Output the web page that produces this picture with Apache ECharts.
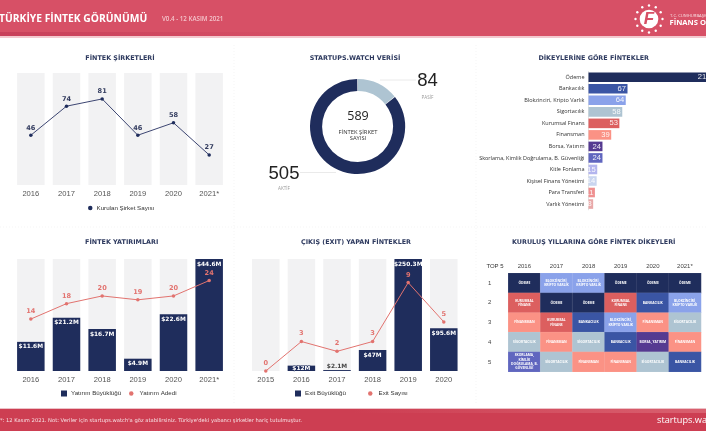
<!DOCTYPE html>
<html lang="tr">
<head>
<meta charset="utf-8">
<title>Türkiye Fintek Görünümü</title>
<script src="https://cdn.jsdelivr.net/npm/echarts@6/dist/echarts.min.js"></script>
<style>
    html, body { margin: 0; padding: 0; background: #fff; overflow: hidden; }
    #main { width: 706px; height: 431px; }
</style>
</head>
<body>
<div id="main"></div>
<script>
// fintek sirketleri
var foundedYears = ['2016', '2017', '2018', '2019', '2020', '2021*'];
var foundedCounts = [46, 74, 81, 46, 58, 27];

// startups.watch verisi
var passiveCount = 84;
var activeCount = 505;
var totalCount = 589;

// dikeylere gore
var verticalNames = ['Ödeme', 'Bankacılık', 'Blokzinciri, Kripto Varlık', 'Sigortacılık', 'Kurumsal Finans', 'Finansman', 'Borsa, Yatırım', 'Skorlama, Kimlik Doğrulama, B. Güvenliği', 'Kitle Fonlama', 'Kişisel Finans Yönetimi', 'Para Transferi', 'Varlık Yönetimi'];
var verticalCounts = [212, 67, 64, 58, 53, 39, 24, 24, 15, 14, 11, 8];

// yatirimlar
var investYears = ['2016', '2017', '2018', '2019', '2020', '2021*'];
var investAmounts = [11.6, 21.2, 16.7, 4.9, 22.6, 44.6];
var investDeals = [14, 18, 20, 19, 20, 24];

// exit
var exitYears = ['2015', '2016', '2017', '2018', '2019', '2020'];
var exitAmounts = [0, 12, 2.1, 47, 250.3, 95.6];
var exitDeals = [0, 3, 2, 3, 9, 5];

// top 5 tablosu
var topYears = ['2016', '2017', '2018', '2019', '2020', '2021*'];
var topRanks = ['1', '2', '3', '4', '5'];
var top2016 = ['ODEME', 'KURUMSAL', 'FINANSMAN', 'SIGORTA', 'SKORLAMA'];
var top2017 = ['BLOK', 'ODEME', 'KURUMSAL', 'FINANSMAN', 'SIGORTA'];
var top2018 = ['BLOK', 'ODEME', 'BANKA', 'SIGORTA', 'FINANSMAN'];
var top2019 = ['ODEME', 'KURUMSAL', 'BLOK', 'BANKA', 'FINANSMAN'];
var top2020 = ['ODEME', 'BANKA', 'FINANSMAN', 'BORSA', 'SIGORTA'];
var top2021 = ['ODEME', 'BLOK', 'SIGORTA', 'FINANSMAN', 'BANKA'];
var topColumns = [top2016, top2017, top2018, top2019, top2020, top2021];

var topLabels = {
    ODEME: 'ÖDEME',
    BANKA: 'BANKACILIK',
    BLOK: 'BLOKZİNCİRİ,\nKRİPTO VARLIK',
    SIGORTA: 'SİGORTACILIK',
    KURUMSAL: 'KURUMSAL\nFİNANS',
    FINANSMAN: 'FİNANSMAN',
    BORSA: 'BORSA, YATIRIM',
    SKORLAMA: 'SKORLAMA,\nKİMLİK\nDOĞRULAMA, B.\nGÜVENLİĞİ'
};
var topColors = {
    ODEME: '#1f2d5c',
    BANKA: '#3a55a4',
    BLOK: '#8aa2ea',
    SIGORTA: '#aec4d2',
    KURUMSAL: '#dc5f5f',
    FINANSMAN: '#fb9285',
    BORSA: '#553a91',
    SKORLAMA: '#6066bf'
};
var verticalColors = ['#1f2d5c', '#3a55a4', '#8aa2ea', '#aec4d2', '#dc5f5f', '#fb9285', '#553a91', '#6066bf', '#b3b5ee', '#c9d5ef', '#ef9090', '#e8a8a8'];

var NAVY = '#1f2d5c';
var RED = '#e2736f';
var BAND = '#f2f2f3';
var SANS = '"Open Sans", sans-serif';
var HELV = '"Liberation Sans", sans-serif';
var MONO = '"DejaVu Sans", sans-serif';

var chart = echarts.init(document.getElementById('main'), null, { renderer: 'canvas' });

function yearAxis(grid, years) {
    return {
        type: 'category', gridIndex: grid, data: years,
        axisLine: { show: false }, axisTick: { show: false }, splitLine: { show: false },
        axisLabel: { color: '#555', fontSize: 7.6, fontFamily: HELV, margin: 5 }
    };
}
function hiddenValue(grid, min, max) {
    return { type: 'value', gridIndex: grid, min: min, max: max, show: false, splitLine: { show: false } };
}
function sectionTitle(text, x, y) {
    return {
        text: text, left: x, top: y, textAlign: 'center', padding: 0,
        textStyle: { color: '#2e3a5f', fontSize: 6.4, fontWeight: 'bold', fontFamily: MONO }
    };
}
function legendStyle() {
    return { color: '#333', fontSize: 6.2, fontFamily: HELV, padding: [0, 0, 0, -1] };
}

var heatData = [];
topColumns.forEach(function (col, x) {
    col.forEach(function (key, y) {
        heatData.push({
            value: [x, y, 1],
            itemStyle: { color: topColors[key] },
            label: { formatter: topLabels[key] }
        });
    });
});

var verticalData = verticalCounts.map(function (v, i) {
    return { value: v, itemStyle: { color: verticalColors[i] } };
});

var exitData = exitAmounts.map(function (v, i) {
    var item = { value: v };
    if (i === 0) item.label = { show: false };
    if (i === 1) item.label = { position: 'insideBottom', distance: 0, textBorderColor: '#1f2d5c', textBorderWidth: 0.8 };
    if (i === 2) item.label = { position: 'top', distance: 1, color: '#444' };
    return item;
});

// logo noktalari
var logoDots = [];
for (var d = 0; d < 12; d++) {
    var ang = d / 12 * Math.PI * 2;
    logoDots.push({
        type: 'circle',
        shape: { cx: 649 + Math.cos(ang) * 13.5, cy: 19 + Math.sin(ang) * 13.5, r: 1.2 },
        style: { fill: '#fff' }
    });
}

var decorations = [
    { type: 'rect', z: -2, shape: { x: 0, y: 0, width: 706, height: 36 }, style: { fill: '#d75066' } },
    {
        type: 'rect', z: -1, shape: { x: 0, y: 32, width: 706, height: 4 },
        style: { fill: new echarts.graphic.LinearGradient(0, 0, 1, 0, [{ offset: 0, color: '#c8405a' }, { offset: 0.45, color: '#d75066' }]) }
    },
    { type: 'rect', z: -1, shape: { x: 0, y: 36, width: 706, height: 2 }, style: { fill: '#f3c9cf' } },
    { type: 'rect', z: -2, shape: { x: 0, y: 409, width: 706, height: 22 }, style: { fill: '#cd3e52' } },
    {
        type: 'rect', z: -1, shape: { x: 0, y: 409, width: 706, height: 4 },
        style: { fill: new echarts.graphic.LinearGradient(0, 0, 1, 0, [{ offset: 0.5, color: '#cd3e52' }, { offset: 1, color: '#d9606f' }]) }
    },
    { type: 'rect', z: -1, shape: { x: 0, y: 408, width: 706, height: 1 }, style: { fill: '#ecc2c8' } },

    { type: 'line', shape: { x1: 234, y1: 45, x2: 234, y2: 405 }, style: { stroke: '#f0f0f0', lineWidth: 0.7, lineDash: [1, 2] } },
    { type: 'line', shape: { x1: 476, y1: 45, x2: 476, y2: 405 }, style: { stroke: '#f0f0f0', lineWidth: 0.7, lineDash: [1, 2] } },
    { type: 'line', shape: { x1: 0, y1: 227, x2: 706, y2: 227 }, style: { stroke: '#f0f0f0', lineWidth: 0.7, lineDash: [1, 2] } },

    { type: 'text', x: -1, y: 19, style: { text: 'TÜRKİYE FİNTEK GÖRÜNÜMÜ', fill: '#fff', font: 'bold 10.3px ' + SANS, verticalAlign: 'middle' } },
    { type: 'text', x: 162, y: 19, style: { text: 'V0.4 - 12 KASIM 2021', fill: '#f4c4cb', font: '600 6.2px ' + SANS, verticalAlign: 'middle' } },
    { type: 'circle', shape: { cx: 649, cy: 19, r: 9.3 }, style: { fill: '#fff' } },
    { type: 'text', x: 649, y: 19, style: { text: 'F', fill: '#d75066', font: 'italic bold 17px ' + HELV, align: 'center', verticalAlign: 'middle' } },
    { type: 'text', x: 670, y: 15.5, style: { text: 'T.C. CUMHURBAŞKANLIĞI', fill: '#f8dfe3', font: '4.2px ' + SANS, verticalAlign: 'middle' } },
    { type: 'text', x: 669.5, y: 22.8, style: { text: 'FİNANS OFİSİ', fill: '#fff', font: 'bold 7.6px ' + SANS, verticalAlign: 'middle' } },

    { type: 'text', x: 0, y: 420.5, style: { text: '*: 12 Kasım 2021. Not: Veriler için startups.watch\'a göz atabilirsiniz. Türkiye\'deki yabancı şirketler hariç tutulmuştur.', fill: '#f8e3e6', font: '5.2px ' + MONO, verticalAlign: 'middle' } },
    { type: 'text', x: 657, y: 420.5, style: { text: 'startups.watch', fill: '#fff', font: '9.2px ' + SANS, verticalAlign: 'middle' } },

    // donut ortasi ve etiketler
    { type: 'text', x: 358, y: 116, style: { text: String(totalCount), fill: '#222', font: '12.5px ' + SANS, align: 'center', verticalAlign: 'middle' } },
    { type: 'text', x: 358, y: 132, style: { text: 'FİNTEK ŞİRKET', fill: '#333', font: '5.8px ' + SANS, align: 'center', verticalAlign: 'middle' } },
    { type: 'text', x: 358, y: 138, style: { text: 'SAYISI', fill: '#333', font: '5.8px ' + SANS, align: 'center', verticalAlign: 'middle' } },
    { type: 'line', shape: { x1: 380, y1: 80, x2: 416, y2: 80 }, style: { stroke: '#e4e4e4', lineWidth: 0.8 } },
    { type: 'line', shape: { x1: 300, y1: 172.5, x2: 336, y2: 172.5 }, style: { stroke: '#e4e4e4', lineWidth: 0.8 } },
    { type: 'text', x: 427.5, y: 81, style: { text: String(passiveCount), fill: '#222', font: '18.5px ' + HELV, align: 'center', verticalAlign: 'middle' } },
    { type: 'text', x: 427.5, y: 98, style: { text: 'PASİF', fill: '#999', font: '4.6px ' + SANS, align: 'center', verticalAlign: 'middle' } },
    { type: 'text', x: 284, y: 173.5, style: { text: String(activeCount), fill: '#222', font: '18.5px ' + HELV, align: 'center', verticalAlign: 'middle' } },
    { type: 'text', x: 284, y: 189, style: { text: 'AKTİF', fill: '#999', font: '4.6px ' + SANS, align: 'center', verticalAlign: 'middle' } },

    { type: 'text', x: 495, y: 266.7, style: { text: 'TOP 5', fill: '#333', font: '6px ' + HELV, align: 'center', verticalAlign: 'middle' } }
].concat(logoDots);

var option = {
    animation: false,
    backgroundColor: '#fff',
    title: [
        sectionTitle('FİNTEK ŞİRKETLERİ', 120, 55),
        sectionTitle('STARTUPS.WATCH VERİSİ', 355, 55),
        sectionTitle('DİKEYLERİNE GÖRE FİNTEKLER', 593.7, 55),
        sectionTitle('FİNTEK YATIRIMLARI', 121.7, 239.3),
        sectionTitle('ÇIKIŞ (EXIT) YAPAN FİNTEKLER', 356, 239.3),
        sectionTitle('KURULUŞ YILLARINA GÖRE FİNTEK DİKEYLERİ', 593.7, 239.3)
    ],
    legend: [
        { data: [{ name: 'Kurulan Şirket Sayısı', icon: 'circle' }], left: 88, top: 205, itemWidth: 4.5, itemHeight: 4.5, itemGap: 0, padding: 0, textStyle: legendStyle() },
        { data: [{ name: 'Yatırım Büyüklüğü', icon: 'rect' }], left: 61, top: 390.5, itemWidth: 6, itemHeight: 6, padding: 0, textStyle: legendStyle() },
        { data: [{ name: 'Yatırım Adedi', icon: 'circle' }], left: 129, top: 390.5, itemWidth: 4.5, itemHeight: 4.5, padding: 0, textStyle: { color: '#333', fontSize: 6.2, fontFamily: HELV, padding: [0, 0, 0, 1] } },
        { data: [{ name: 'Exit Büyüklüğü', icon: 'rect' }], left: 295, top: 390.5, itemWidth: 6, itemHeight: 6, padding: 0, textStyle: legendStyle() },
        { data: [{ name: 'Exit Sayısı', icon: 'circle' }], left: 368, top: 390.5, itemWidth: 4.5, itemHeight: 4.5, padding: 0, textStyle: { color: '#333', fontSize: 6.2, fontFamily: HELV, padding: [0, 0, 0, 1] } }
    ],
    grid: [
        { left: 13, top: 73, width: 214, height: 112 },
        { left: 13, top: 259, width: 214, height: 112 },
        { left: 248, top: 259, width: 213.6, height: 112 },
        // sag kenardan tasiyor, referansta da kesik
        { left: 588.5, top: 71.5, width: 140, height: 138.3, outerBoundsMode: 'none' },
        { left: 508.3, top: 273.3, width: 192.7, height: 98.4, outerBoundsMode: 'none' }
    ],
    xAxis: [
        yearAxis(0, foundedYears),
        yearAxis(1, investYears),
        yearAxis(2, exitYears),
        { type: 'value', gridIndex: 3, min: 0, max: 240.5, show: false, splitLine: { show: false } },
        {
            type: 'category', gridIndex: 4, data: topYears, position: 'top',
            axisLine: { show: false }, axisTick: { show: false }, splitArea: { show: false },
            axisLabel: { color: '#444', fontSize: 6, fontFamily: HELV, margin: 3.5 }
        }
    ],
    yAxis: [
        hiddenValue(0, -2, 106),
        hiddenValue(1, 0, 44.6),
        hiddenValue(1, 0.5, 29.6),
        hiddenValue(2, 0, 250.3),
        hiddenValue(2, 0, 11.4),
        {
            type: 'category', gridIndex: 3, data: verticalNames, inverse: true,
            axisLine: { show: true, lineStyle: { color: '#ddd', width: 0.8 } }, axisTick: { show: false },
            axisLabel: { color: '#333', fontSize: 5.5, fontFamily: SANS, margin: 4 }
        },
        {
            type: 'category', gridIndex: 4, data: topRanks, inverse: true,
            axisLine: { show: false }, axisTick: { show: false }, splitArea: { show: false },
            axisLabel: { color: '#444', fontSize: 6, fontFamily: HELV, margin: 17 }
        }
    ],
    series: [
        {
            name: 'bandlar', type: 'bar', xAxisIndex: 0, yAxisIndex: 0, data: foundedCounts, barWidth: 27.5,
            itemStyle: { color: 'transparent' }, showBackground: true, backgroundStyle: { color: BAND }, silent: true
        },
        {
            name: 'Kurulan Şirket Sayısı', type: 'line', xAxisIndex: 0, yAxisIndex: 0, data: foundedCounts,
            symbol: 'circle', symbolSize: 3.5, lineStyle: { color: '#3d4672', width: 1 }, itemStyle: { color: NAVY },
            label: { show: true, position: 'top', distance: 2, color: '#333c5f', fontSize: 6.6, fontWeight: 'bold', fontFamily: MONO }
        },
        {
            name: 'Yatırım Büyüklüğü', type: 'bar', xAxisIndex: 1, yAxisIndex: 1, data: investAmounts, barWidth: 27.5,
            itemStyle: { color: NAVY }, showBackground: true, backgroundStyle: { color: BAND },
            label: {
                show: true, position: 'insideTop', distance: 2, color: '#fff', fontSize: 5.9, fontWeight: 'bold', fontFamily: MONO,
                formatter: function (p) { return '$' + p.value + 'M'; }
            }
        },
        {
            name: 'Yatırım Adedi', type: 'line', xAxisIndex: 1, yAxisIndex: 2, data: investDeals,
            symbol: 'circle', symbolSize: 3.5, lineStyle: { color: RED, width: 1 }, itemStyle: { color: RED },
            label: { show: true, position: 'top', distance: 2.5, color: RED, fontSize: 6.6, fontWeight: 'bold', fontFamily: MONO }
        },
        {
            name: 'Exit Büyüklüğü', type: 'bar', xAxisIndex: 2, yAxisIndex: 3, data: exitData, barWidth: 27.5,
            barMinHeight: 0, itemStyle: { color: NAVY }, showBackground: true, backgroundStyle: { color: BAND },
            label: {
                show: true, position: 'insideTop', distance: 2, color: '#fff', fontSize: 5.9, fontWeight: 'bold', fontFamily: MONO,
                formatter: function (p) { return '$' + p.value + 'M'; }
            }
        },
        {
            name: 'Exit Sayısı', type: 'line', xAxisIndex: 2, yAxisIndex: 4, data: exitDeals,
            symbol: 'circle', symbolSize: 3.5, lineStyle: { color: RED, width: 1 }, itemStyle: { color: RED },
            label: { show: true, position: 'top', distance: 2.5, color: RED, fontSize: 6.6, fontWeight: 'bold', fontFamily: MONO }
        },
        {
            name: 'Dikeyler', type: 'bar', xAxisIndex: 3, yAxisIndex: 5, data: verticalData, barWidth: 9.6,
            label: { show: true, position: 'insideRight', distance: 1.5, color: 'rgba(255,255,255,0.9)', fontSize: 7.6, fontFamily: HELV }
        },
        {
            name: 'Top5', type: 'heatmap', xAxisIndex: 4, yAxisIndex: 6, data: heatData,
            label: { show: true, color: '#fff', fontSize: 3.3, lineHeight: 4.4, fontWeight: 'bold', fontFamily: SANS, align: 'center' },
            itemStyle: { borderColor: 'rgba(255,255,255,0.25)', borderWidth: 0.3 }
        },
        {
            name: 'Startups', type: 'pie', center: [357.6, 126.5], radius: [35.5, 47.6], startAngle: 90, padAngle: 0.8,
            label: { show: false }, labelLine: { show: false }, silent: true,
            data: [
                { name: 'Pasif', value: passiveCount, itemStyle: { color: '#aec4d2' } },
                { name: 'Aktif', value: activeCount, itemStyle: { color: NAVY } }
            ]
        }
    ],
    graphic: { elements: decorations }
};

chart.setOption(option);
</script>
</body>
</html>
